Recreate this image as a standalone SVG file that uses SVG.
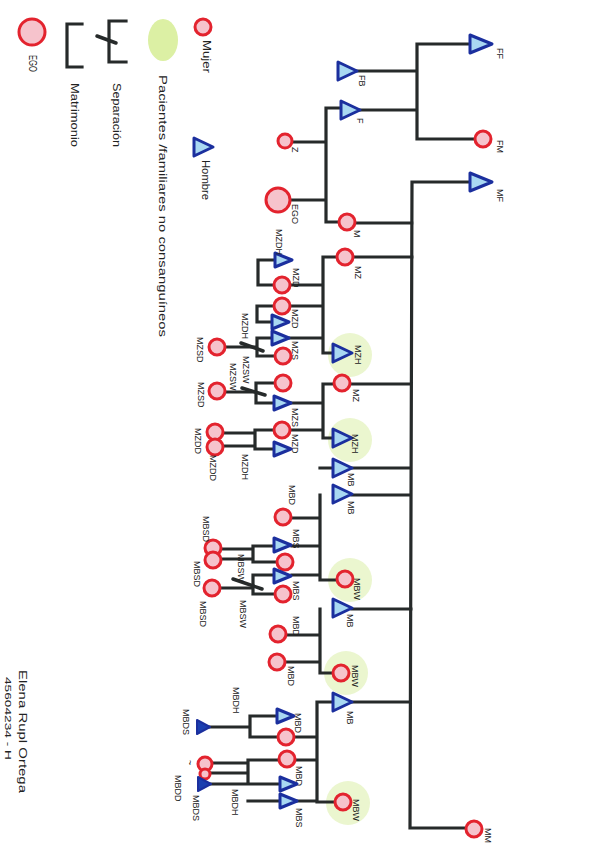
<svg xmlns="http://www.w3.org/2000/svg" xmlns:xlink="http://www.w3.org/1999/xlink" width="600" height="848" viewBox="0 0 600 848">
<style>
.ln{stroke:#262a2a;stroke-width:3.2;fill:none;stroke-linecap:square}
.sl{stroke:#262a2a;stroke-width:3.5;fill:none;stroke-linecap:round}
.w{fill:#f6c3cc;stroke:#e3232e;stroke-width:3}
.m{fill:#a9d8f2;stroke:#1b2f9e;stroke-width:3;stroke-linejoin:round}
.md{fill:#1b3fb0;stroke:#1b2f9e;stroke-width:2;stroke-linejoin:round}
.g{fill:#ebf6cf}
.t{font-family:"Liberation Sans","DejaVu Sans",sans-serif;font-size:9px;fill:#222}
.tl{font-family:"Liberation Sans","DejaVu Sans",sans-serif;font-size:11px;fill:#222}
</style>
<defs>
<path id="tri" d="M-9,-9 L10,0 L-9,9 Z"/>
<path id="trib" d="M-10,-9 L12,0 L-10,9 Z"/>
<path id="trim" d="M-8,-7 L9,0 L-8,7 Z"/>
<path id="tris" d="M-6,-7 L7,0 L-6,7 Z"/>
</defs>
<rect width="600" height="848" fill="#ffffff"/>

<g id="legend">
<circle class="w" cx="32" cy="32" r="13"/>
<text class="tl" transform="translate(29,55) rotate(90)" textLength="17" lengthAdjust="spacingAndGlyphs">EGO</text>
<path class="ln" d="M82,24 H67 V67 H82" stroke-width="3.5"/>
<text class="tl" transform="translate(71,83) rotate(90)" textLength="64" lengthAdjust="spacingAndGlyphs">Matrimonio</text>
<path class="ln" d="M126,21 H109 V62 H126" stroke-width="3.5"/>
<path class="sl" d="M97,36 L116,43"/>
<text class="tl" transform="translate(113,83) rotate(90)" textLength="64" lengthAdjust="spacingAndGlyphs">Separación</text>
<ellipse cx="163" cy="40" rx="15" ry="21" fill="#dcf0a4"/>
<text class="tl" transform="translate(159,75) rotate(90)" textLength="262" lengthAdjust="spacingAndGlyphs">Pacientes /familiares no consanguíneos</text>
<circle class="w" cx="203" cy="27" r="8"/>
<text class="tl" transform="translate(203,40) rotate(90)" textLength="33" lengthAdjust="spacingAndGlyphs">Mujer</text>
<use href="#tri" class="m" x="203" y="147"/>
<text class="tl" transform="translate(202,160) rotate(90)" textLength="40" lengthAdjust="spacingAndGlyphs">Hombre</text>
</g>

<g id="signature">
<text class="tl" font-size="13" transform="translate(19,670) rotate(90)" textLength="123" lengthAdjust="spacingAndGlyphs">Elena Rupl Ortega</text>
<text class="t" font-size="8" transform="translate(5,677) rotate(90)" textLength="83" lengthAdjust="spacingAndGlyphs">45604234 - H</text>
</g>

<g id="highlights">
<circle class="g" cx="350" cy="355" r="22"/>
<circle class="g" cx="350" cy="440" r="22"/>
<circle class="g" cx="350" cy="580" r="22"/>
<circle class="g" cx="346" cy="673" r="22"/>
<circle class="g" cx="348" cy="803" r="22"/>
</g>

<g id="connectors">
<path class="ln" d="M417,44 H470 M417,44 V139 M357,71 H417 M360,110 H417 M417,139 H475"/>
<path class="ln" d="M326,108 H340 M326,108 V222 M326,222 H339 M292,142 H326 M290,200 H326"/>
<path class="ln" d="M413,182 H470 M412,182 L410,828 M355,223 H412 M353,257 H412 M350,384 H411 M320,468 H411 M352,495 H411 M352,609 H411 M352,702 H410 M410,828 H466"/>
<path class="ln" d="M323,257 H337 M323,257 V353 M323,353 H333 M290,285 H323 M290,306 H323 M290,338 H323"/>
<path class="ln" d="M258,260 V285 M258,260 H274 M258,285 H274 M257,306 V322 M257,306 H274 M257,322 H272 M257,338 V356 M257,338 H272 M257,356 H275 M225,347 H257"/>
<path class="sl" d="M241,343 L263,351"/>
<path class="ln" d="M323,384 H334 M323,384 V438 M323,438 H333 M290,403 H323 M290,430 H323"/>
<path class="ln" d="M256,383 V403 M256,383 H275 M256,403 H274 M225,392 H256 M255,430 V449 M255,430 H274 M255,449 H274 M222,433 H255 M222,446 H255"/>
<path class="sl" d="M242,388 L265,395"/>
<path class="ln" d="M320,495 V580 M320,580 H337 M291,518 H320 M292,546 H320 M292,575 H320"/>
<path class="ln" d="M253,546 V562 M253,546 H274 M253,562 H277 M220,549 H253 M220,559 H253 M253,575 V594 M253,575 H274 M253,594 H275 M219,588 H253"/>
<path class="sl" d="M233,579 L262,589"/>
<path class="ln" d="M320,609 V673 M320,673 H333 M286,635 H320 M285,662 H320"/>
<path class="ln" d="M317,702 H333 M317,702 V802 M317,802 H335 M294,737 H317 M295,760 H317 M297,801 H317 M248,801 H280"/>
<path class="ln" d="M250,716 V737 M250,716 H277 M250,737 H278 M208,727 H250 M248,760 V784 M248,760 H279 M248,784 H280 M211,763 H248 M211,773 H248 M210,784 H248"/>
</g>

<g id="FF"><use href="#trib" class="m" x="480" y="44"/><text class="t" transform="translate(497,48) rotate(90)">FF</text></g>
<g id="FB"><use href="#tri" class="m" x="347" y="71"/><text class="t" transform="translate(359,75) rotate(90)">FB</text></g>
<g id="F"><use href="#tri" class="m" x="350" y="110"/><text class="t" transform="translate(357,118) rotate(90)">F</text></g>
<g id="FM"><circle class="w" cx="483" cy="139" r="8"/><text class="t" transform="translate(497,140) rotate(90)">FM</text></g>
<g id="MF"><use href="#trib" class="m" x="480" y="182"/><text class="t" transform="translate(497,189) rotate(90)">MF</text></g>
<g id="MM"><circle class="w" cx="474" cy="829" r="8"/><text class="t" transform="translate(485,828) rotate(90)">MM</text></g>
<g id="M"><circle class="w" cx="347" cy="222" r="8"/><text class="t" transform="translate(354,230) rotate(90)">M</text></g>
<g id="Z"><circle class="w" cx="285" cy="141" r="7"/><text class="t" transform="translate(292,147) rotate(90)">Z</text></g>
<g id="EGO"><circle class="w" cx="278" cy="200" r="12"/><text class="t" transform="translate(292,204) rotate(90)">EGO</text></g>

<g id="MZ1"><circle class="w" cx="345" cy="257" r="8"/><text class="t" transform="translate(355,266) rotate(90)">MZ</text></g>
<g id="MZH1"><use href="#tri" class="m" x="342" y="353"/><text class="t" transform="translate(355,345) rotate(90)">MZH</text></g>
<g id="MZD1"><circle class="w" cx="282" cy="285" r="8"/><text class="t" transform="translate(293,268) rotate(90)">MZD</text></g>
<g id="MZDH1"><use href="#trim" class="m" x="283" y="260"/><text class="t" transform="translate(276,229) rotate(90)">MZDH</text></g>
<g id="MZD2"><circle class="w" cx="282" cy="306" r="8"/><text class="t" transform="translate(292,309) rotate(90)">MZD</text></g>
<g id="MZDH2"><use href="#trim" class="m" x="280" y="322"/><text class="t" transform="translate(242,313) rotate(90)">MZDH</text></g>
<g id="MZS1"><use href="#trim" class="m" x="280" y="338"/><text class="t" transform="translate(292,341) rotate(90)">MZS</text></g>
<g id="MZSW1"><circle class="w" cx="283" cy="356" r="8"/><text class="t" transform="translate(243,356) rotate(90)">MZSW</text></g>
<g id="MZSD1"><circle class="w" cx="217" cy="347" r="8"/><text class="t" transform="translate(197,337) rotate(90)">MZSD</text></g>

<g id="MZ2"><circle class="w" cx="342" cy="383" r="8"/><text class="t" transform="translate(353,389) rotate(90)">MZ</text></g>
<g id="MZH2"><use href="#tri" class="m" x="342" y="438"/><text class="t" transform="translate(352,434) rotate(90)">MZH</text></g>
<g id="MZS2"><use href="#trim" class="m" x="282" y="403"/><text class="t" transform="translate(292,408) rotate(90)">MZS</text></g>
<g id="MZSW2"><circle class="w" cx="283" cy="383" r="8"/><text class="t" transform="translate(230,363) rotate(90)">MZSW</text></g>
<g id="MZSD2"><circle class="w" cx="217" cy="391" r="8"/><text class="t" transform="translate(198,382) rotate(90)">MZSD</text></g>
<g id="MZD3"><circle class="w" cx="282" cy="430" r="8"/><text class="t" transform="translate(292,434) rotate(90)">MZD</text></g>
<g id="MZDH3"><use href="#trim" class="m" x="282" y="449"/><text class="t" transform="translate(242,454) rotate(90)">MZDH</text></g>
<g id="MZDD1"><circle class="w" cx="215" cy="432" r="8"/><text class="t" transform="translate(195,428) rotate(90)">MZDD</text></g>
<g id="MZDD2"><circle class="w" cx="215" cy="447" r="8"/><text class="t" transform="translate(210,455) rotate(90)">MZDD</text></g>

<g id="MB1"><use href="#tri" class="m" x="342" y="468"/><text class="t" transform="translate(348,473) rotate(90)">MB</text></g>

<g id="MB2"><use href="#tri" class="m" x="342" y="494"/><text class="t" transform="translate(348,501) rotate(90)">MB</text></g>
<g id="MBW1"><circle class="w" cx="345" cy="579" r="8"/><text class="t" transform="translate(354,578) rotate(90)">MBW</text></g>
<g id="MBD1"><circle class="w" cx="283" cy="517" r="8"/><text class="t" transform="translate(289,485) rotate(90)">MBD</text></g>
<g id="MBS1"><use href="#trim" class="m" x="282" y="545"/><text class="t" transform="translate(293,529) rotate(90)">MBS</text></g>
<g id="MBSW1"><circle class="w" cx="285" cy="562" r="8"/><text class="t" transform="translate(238,554) rotate(90)">MBSW</text></g>
<g id="MBSD1"><circle class="w" cx="213" cy="548" r="8"/><text class="t" transform="translate(203,516) rotate(90)">MBSD</text></g>
<g id="MBSD2"><circle class="w" cx="213" cy="560" r="8"/><text class="t" transform="translate(194,561) rotate(90)">MBSD</text></g>
<g id="MBS2"><use href="#trim" class="m" x="282" y="576"/><text class="t" transform="translate(293,581) rotate(90)">MBS</text></g>
<g id="MBSW2"><circle class="w" cx="283" cy="594" r="8"/><text class="t" transform="translate(240,600) rotate(90)">MBSW</text></g>
<g id="MBSD3"><circle class="w" cx="212" cy="588" r="8"/><text class="t" transform="translate(200,601) rotate(90)">MBSD</text></g>

<g id="MB3"><use href="#tri" class="m" x="342" y="608"/><text class="t" transform="translate(347,614) rotate(90)">MB</text></g>
<g id="MBW2"><circle class="w" cx="341" cy="673" r="8"/><text class="t" transform="translate(352,665) rotate(90)">MBW</text></g>
<g id="MBD2"><circle class="w" cx="278" cy="634" r="8"/><text class="t" transform="translate(293,616) rotate(90)">MBD</text></g>
<g id="MBD3"><circle class="w" cx="277" cy="662" r="8"/><text class="t" transform="translate(288,666) rotate(90)">MBD</text></g>

<g id="MB4"><use href="#tri" class="m" x="342" y="702"/><text class="t" transform="translate(347,711) rotate(90)">MB</text></g>
<g id="MBW3"><circle class="w" cx="343" cy="802" r="8"/><text class="t" transform="translate(353,799) rotate(90)">MBW</text></g>
<g id="MBD4"><circle class="w" cx="286" cy="737" r="8"/><text class="t" transform="translate(295,713) rotate(90)">MBD</text></g>
<g id="MBDH1"><use href="#trim" class="m" x="285" y="716"/><text class="t" transform="translate(233,687) rotate(90)">MBDH</text></g>
<g id="MBDS1"><use href="#tris" class="md" x="203" y="727"/><text class="t" transform="translate(183,709) rotate(90)">MBDS</text></g>
<g id="MBD5"><circle class="w" cx="287" cy="759" r="8"/><text class="t" transform="translate(296,766) rotate(90)">MBD</text></g>
<g id="MBDH2"><use href="#trim" class="m" x="288" y="784"/><text class="t" transform="translate(232,789) rotate(90)">MBDH</text></g>
<g id="MBDD"><circle class="w" cx="205" cy="764" r="7"/><circle class="w" cx="205" cy="774" r="5"/><text class="t" transform="translate(187,760) rotate(90)">~</text><text class="t" transform="translate(175,775) rotate(90)">MBDD</text></g>
<g id="MBDS2"><use href="#tris" class="md" x="204" y="784"/><text class="t" transform="translate(193,795) rotate(90)">MBDS</text></g>
<g id="MBS3"><use href="#trim" class="m" x="288" y="801"/><text class="t" transform="translate(296,808) rotate(90)">MBS</text></g>
</svg>
